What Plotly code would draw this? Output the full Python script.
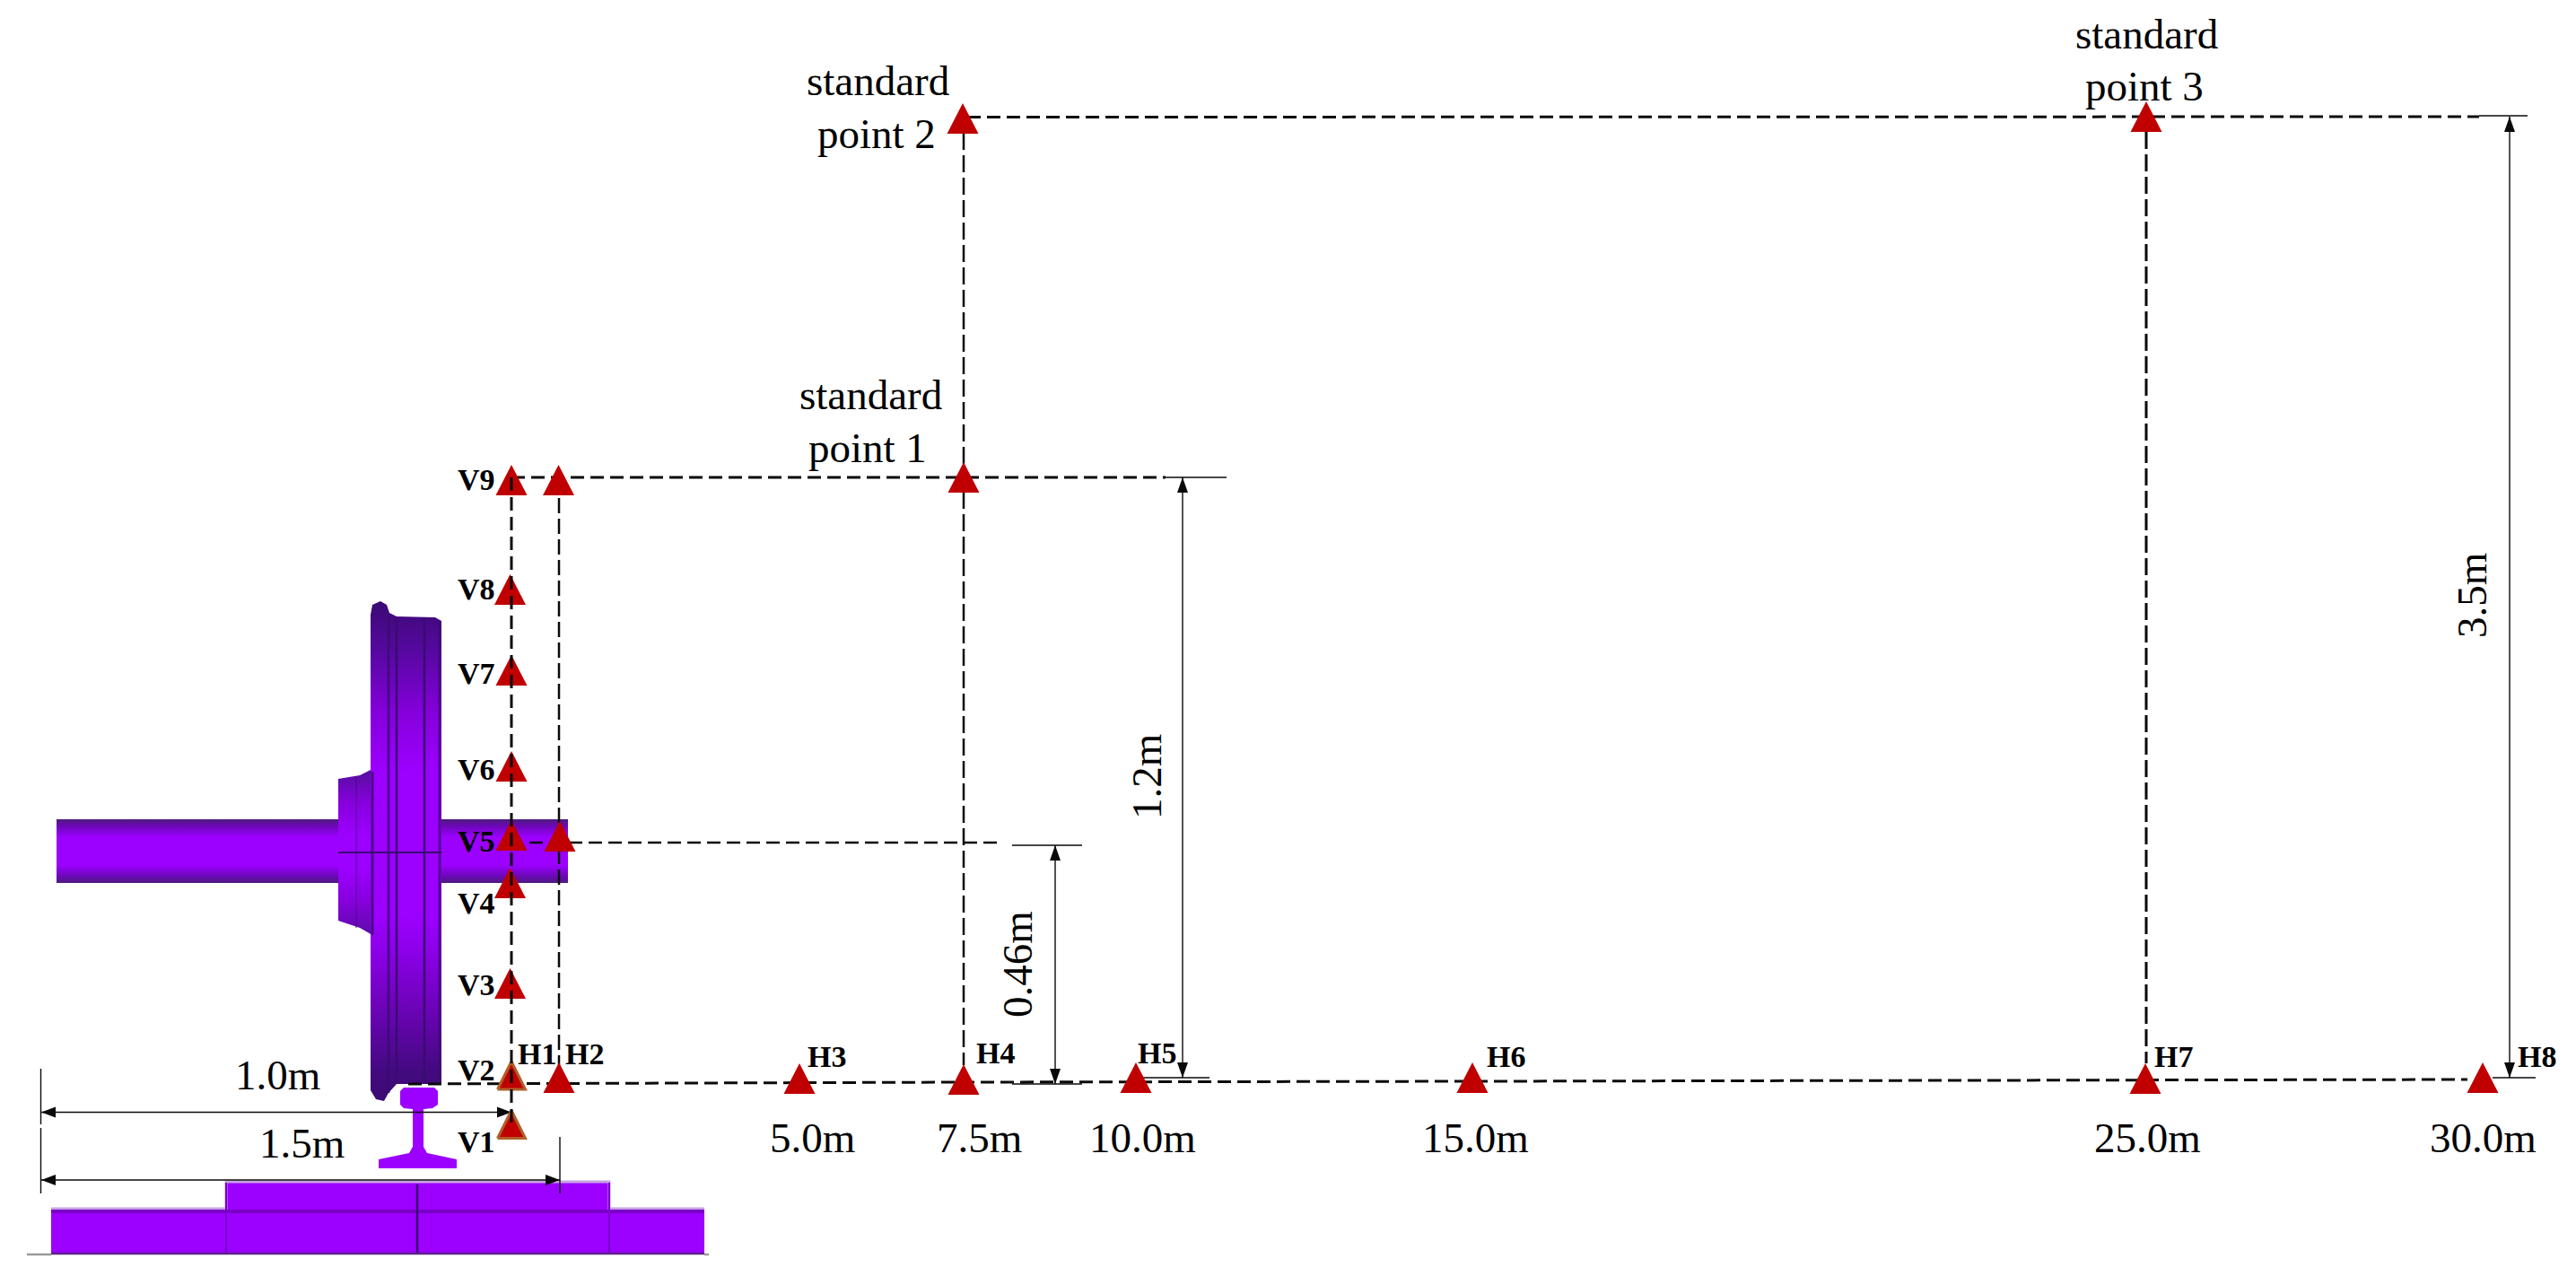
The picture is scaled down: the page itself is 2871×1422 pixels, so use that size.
import plotly.graph_objects as go

# ---- measuring points (picture units: x to the right, y downwards) ----
v_names = ["V1", "V2", "V3", "V4", "V5", "V6", "V7", "V8", "V9"]
v_x = [570, 570, 568.5, 568.5, 570, 570, 570, 568.5, 570]
v_y = [1237.5, 1183, 1079, 967, 914, 837, 730, 640, 518]
v_label_y = [1272, 1192, 1097, 1006, 937, 857, 750, 656, 534]

h_names = ["H3", "H4", "H5", "H6", "H7", "H8"]
h_x = [891, 1074, 1266, 1641, 2391, 2767]
h_y = [1185, 1186, 1184, 1184, 1185, 1184]
h_label_x = [921, 1109, 1289, 1678, 2422, 2827]
h_label_y = [1177, 1173, 1173, 1177, 1177, 1177]

extra_x = [623, 624, 622.5, 1074, 1073, 2392]
extra_y = [1184, 915, 518, 515, 115, 113]
h12_names = ["H1", "H2"]
h12_x = [598, 651]
h12_y = [1174, 1174]

dist_labels = ["5.0m", "7.5m", "10.0m", "15.0m", "25.0m", "30.0m"]
dist_x = [905, 1091, 1273, 1644, 2393, 2767]
dist_y = [1268, 1268, 1268, 1268, 1268, 1268]

std_labels = ["standard", "point 2", "standard", "point 1", "standard", "point 3"]
std_x = [978, 977, 970.5, 967, 2392, 2390]
std_y = [90, 148.5, 440, 499, 38, 96]

dim_labels = ["1.0m", "1.5m"]
dim_x = [309, 336]
dim_y = [1198, 1274]
vdim_labels = ["0.46m", "1.2m", "3.5m"]
vdim_x = [1134, 1278, 2755]
vdim_y = [1075, 866, 664]

# ---- reference lines ----
baseline_x = [455, 1074, 1641, 2391, 2750]
baseline_y = [1208, 1206, 1205, 1204, 1203]
top_x = [1078, 2763]
top_y = [130.5, 130]
mid_x = [590, 1113]
mid_y = [939, 939]
upper_x = [570, 1299]
upper_y = [532, 532]
col_v_x = [570, 570]
col_v_y = [532, 1253]
col_h2_x = [623, 623]
col_h2_y = [532, 1208]
col_s12_x = [1074, 1074]
col_s12_y = [148, 1187]
col_s3_x = [2392, 2392]
col_s3_y = [147, 1185]

# dimension lines: (x0, y0, x1, y1)
thin_lines = [
    (1299, 532, 1367, 532), (1271, 1201, 1348, 1201),
    (1128, 942, 1206, 942), (1128, 1208, 1206, 1208),
    (2763, 129, 2817, 129), (2778, 1201, 2826, 1201),
    (45.5, 1191, 45.5, 1253), (45.5, 1257, 45.5, 1330), (624, 1267, 624, 1330),
    (45.5, 1239.5, 570, 1239.5), (45.5, 1315, 624, 1315),
    (1176, 942, 1176, 1208), (1318, 532, 1318, 1201), (2797, 130, 2797, 1201),
]
up_heads = [(1176, 942), (1318, 532), (2797, 130)]
down_heads = [(1176, 1208), (1318, 1201), (2797, 1201)]
left_heads = [(46, 1239.5), (46, 1315)]
right_heads = [(570, 1239.5), (624, 1315)]

# ---- wheel, rail and ballast outlines ----
axle_x = [63, 633, 633, 63]
axle_y = [913, 913, 984, 984]
hub_x = [377, 401, 415, 415, 401, 377]
hub_y = [868, 864, 857, 1042, 1034, 1026]
wheel_x = [413, 415, 424, 431, 434, 442, 485, 492, 492, 442, 433, 428, 419, 413]
wheel_y = [685, 674, 670, 674, 683, 687, 688, 692, 1208, 1208, 1218, 1227, 1225, 1215]
rail_x = [450, 484, 488, 488, 482, 472, 472, 476, 509, 509, 422, 422, 456, 460, 460, 450, 446, 446]
rail_y = [1212, 1212, 1216, 1231, 1235, 1236, 1278, 1285, 1292, 1302, 1302, 1292, 1285, 1278, 1236, 1235, 1231, 1216]
ballast_x = [57, 252, 252, 679, 679, 785, 785, 57]
ballast_y = [1348, 1348, 1318, 1318, 1348, 1348, 1398, 1398]

dark = "rgb(58,12,112)"
red = "#C00000"
ink = "#0a0a0a"
SERIF = "Liberation Serif"

fig = go.Figure()


def poly(xs, ys, color=None, grad=None, order=None):
    kw = dict(fillgradient=grad) if grad else dict(fillcolor=color)
    fig.add_trace(go.Scatter(x=xs + xs[:1], y=ys + ys[:1], mode="lines", fill="toself",
                             line=dict(width=0, color="rgba(0,0,0,0)"), hoverinfo="skip", **kw))


def line(xs, ys, color=ink, width=1.4, dash=None):
    fig.add_trace(go.Scatter(x=xs, y=ys, mode="lines", hoverinfo="skip",
                             line=dict(color=color, width=width, dash=dash)))


def triangles(xs, tops, w=35, h=34, color=red, outline=None):
    px, py = [], []
    for x, y in zip(xs, tops):
        px += [x - w / 2, x + w / 2, x, x - w / 2, None]
        py += [y + h, y + h, y, y + h, None]
    fig.add_trace(go.Scatter(x=px, y=py, mode="lines", fill="toself", fillcolor=color, hoverinfo="skip",
                             line=dict(color=outline or color, width=3 if outline else 0)))


def heads(points, dx, dy, half=6):
    px, py = [], []
    for x, y in points:
        if dx:
            px += [x, x + dx, x + dx, x, None]
            py += [y, y - half, y + half, y, None]
        else:
            px += [x, x - half, x + half, x, None]
            py += [y, y + dy, y + dy, y, None]
    fig.add_trace(go.Scatter(x=px, y=py, mode="lines", fill="toself", fillcolor=ink,
                             line=dict(width=0, color=ink), hoverinfo="skip"))


axle_scale = [[0, "#4d1c7c"], [0.1, "#6a08b4"], [0.28, "#9c00ff"], [0.72, "#9c00ff"], [0.9, "#6a08b4"], [1, "#4d1c7c"]]
hub_scale = [[0, "#5c0ca8"], [0.2, "#8600dc"], [0.4, "#9c00ff"], [0.6, "#9c00ff"], [0.8, "#8600dc"], [1, "#52109c"]]
wheel_scale = [[0, "#3c0a74"], [0.06, "#430a80"], [0.16, "#6404ac"], [0.3, "#8c00e8"], [0.37, "#9c00ff"],
               [0.66, "#9c00ff"], [0.78, "#8400da"], [0.9, "#5608a0"], [1, "#3c0a74"]]

# ---- wheelset ----
poly(axle_x, axle_y, grad=dict(type="vertical", colorscale=axle_scale))
poly(hub_x, hub_y, grad=dict(type="vertical", colorscale=hub_scale))
poly(wheel_x, wheel_y, grad=dict(type="vertical", colorscale=wheel_scale))
line([397, 397], [866, 1034], "rgba(70,10,130,0.45)", 2)
line([415, 415], [860, 1042], "rgba(60,10,115,0.8)", 3)
line([433, 433], [684, 1218], "rgba(58,12,112,0.75)", 3)
line([442, 442], [688, 1208], dark, 2.5)
line([473, 473], [688, 1208], dark, 2.5)
line([490, 490], [692, 1208], "rgba(58,12,112,0.75)", 3)
line([377, 492], [950, 950], dark, 2)
poly(rail_x, rail_y, "#9c00ff")

# ---- ballast ----
poly(ballast_x, ballast_y, "#9c00ff")
line([57, 252, 252, 679, 679, 785], [1347, 1347, 1317, 1317, 1347, 1347], "#c7a2e6", 3)
line([57, 785], [1350, 1350], "#7a00c8", 4)
line([252, 252], [1318, 1398], "#7a00c8", 2)
line([679, 679], [1318, 1398], "#7a00c8", 2)
line([465, 465], [1320, 1398], dark, 2.5)
line([57, 785], [1397, 1397], "#5f1f8f", 2.5)
line([30, 57], [1398, 1398], "#999999", 2.5)
line([785, 790], [1398, 1398], "#999999", 2.5)

# ---- dashed construction lines ----
DASH = "15px,7px"
line(baseline_x, baseline_y, width=3, dash=DASH)
line(top_x, top_y, width=3, dash=DASH)
line(upper_x, upper_y, width=3, dash=DASH)
line(mid_x, mid_y, width=2.5, dash=DASH)
line(col_h2_x, col_h2_y, width=2.5, dash="17px,6px")
line(col_s12_x, col_s12_y, width=2.5, dash="19px,6px")
line(col_s3_x, col_s3_y, width=3, dash="19px,6px")

# ---- dimension lines and their arrow heads ----
for x0, y0, x1, y1 in thin_lines:
    line([x0, x1], [y0, y1])
heads(up_heads, 0, 17)
heads(down_heads, 0, -17)
heads(left_heads, 16, 0)
heads(right_heads, -16, 0)

# ---- measuring points ----
triangles(v_x[2:] + h_x + extra_x, v_y[2:] + h_y + extra_y)
triangles(v_x[:2], v_y[:2], w=31, h=31, outline="#B0602A")
line(col_v_x, col_v_y, width=3, dash="15px,7px")


def label(text, x, y, size=47, bold=False, angle=0):
    fig.add_annotation(x=x, y=y, text=f"<b>{text}</b>" if bold else text, showarrow=False,
                       xanchor="center", yanchor="middle", textangle=angle,
                       font=dict(family=SERIF, size=size, color="#000000"))


for n, y in zip(v_names, v_label_y):
    label(n, 531, y, 34, True)
for n, x, y in zip(h_names, h_label_x, h_label_y):
    label(n, x, y, 34, True)
for n, x, y in zip(h12_names, h12_x, h12_y):
    label(n, x, y, 34, True)
for n, x, y in zip(dist_labels, dist_x, dist_y):
    label(n, x, y)
for n, x, y in zip(std_labels, std_x, std_y):
    label(n, x, y)
for n, x, y in zip(dim_labels, dim_x, dim_y):
    label(n, x, y)
for n, x, y in zip(vdim_labels, vdim_x, vdim_y):
    label(n, x, y, angle=-90)

# The page adds an 8 px body margin, so the plot area starts at picture unit 8.
fig.update_layout(
    width=2863, height=1414, margin=dict(l=0, r=0, t=0, b=0, pad=0),
    paper_bgcolor="white", plot_bgcolor="white", showlegend=False,
    xaxis=dict(range=[8, 2871], visible=False, fixedrange=True),
    yaxis=dict(range=[1422, 8], visible=False, fixedrange=True),
)
fig.write_html("out.html")
